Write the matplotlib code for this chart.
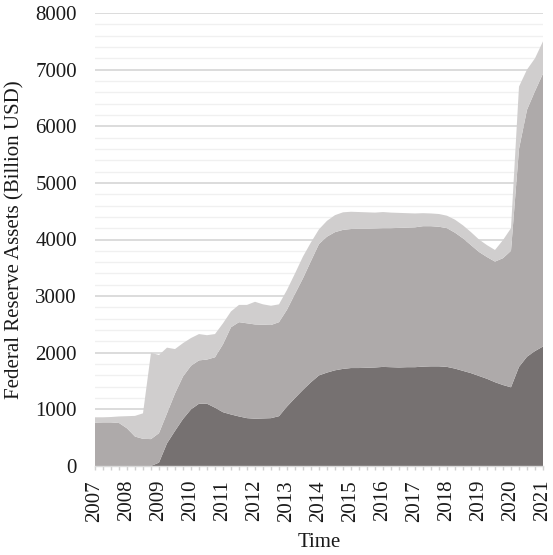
import numpy as np
import matplotlib
matplotlib.use("Agg")
import matplotlib.pyplot as plt
from matplotlib.ticker import MultipleLocator

plt.rcParams['font.family'] = ['Liberation Serif', 'DejaVu Serif']

# Quarterly observations, 2007 Q1 .. 2021 Q1 (decimal years)
quarters = 2007 + np.arange(57) / 4.0

# Layer values (Billion USD), bottom to top
mbs = [0, 0, 0, 0, 0, 0, 0, 0, 60, 400, 620, 830, 1000, 1100, 1100, 1030,
       950, 910, 875, 845, 835, 840, 845, 880, 1050, 1200, 1345, 1480,
       1600, 1650, 1690, 1715, 1730, 1730, 1735, 1740, 1750, 1745, 1740,
       1745, 1745, 1755, 1760, 1760, 1750, 1720, 1680, 1640, 1590, 1540,
       1480, 1430, 1390, 1750, 1930, 2030, 2110]
treasuries = [765, 770, 770, 760, 665, 520, 480, 475, 520, 530, 660, 750,
              770, 765, 780, 890, 1200, 1540, 1665, 1675, 1665, 1655, 1645,
              1660, 1710, 1840, 1970, 2140, 2320, 2400, 2440, 2455, 2455,
              2460, 2455, 2455, 2450, 2455, 2465, 2465, 2470, 2480, 2475,
              2465, 2450, 2400, 2340, 2260, 2190, 2150, 2130, 2240, 2410,
              3850, 4360, 4590, 4820]
other = [95, 90, 95, 115, 215, 365, 450, 1525, 1380, 1160, 785, 590, 490,
         465, 430, 410, 370, 280, 305, 325, 400, 360, 340, 315, 350, 360,
         385, 330, 260, 280, 300, 310, 305, 295, 290, 280, 285, 275, 265,
         255, 245, 230, 225, 225, 220, 230, 230, 230, 220, 210, 205, 320,
         400, 1100, 710, 580, 570]

year_ticks = list(range(2007, 2022))
colors = ['#767171', '#AEAAAA', '#D0CECE']

fig = plt.figure(figsize=(5.53, 5.55), dpi=100)
ax = fig.add_axes([95 / 553, 1 - 466 / 555, (543 - 95) / 553, (466 - 13) / 555])

ax.stackplot(quarters, mbs, treasuries, other, colors=colors, linewidth=0)

ax.set_xlim(2007, 2021)
ax.set_ylim(0, 8000)
ax.yaxis.set_major_locator(MultipleLocator(1000))
ax.yaxis.set_minor_locator(MultipleLocator(200))
ax.set_xticks(year_ticks)
ax.set_xticklabels([str(y) for y in year_ticks], rotation=90)
ax.xaxis.set_minor_locator(MultipleLocator(0.25))

ax.set_axisbelow(True)
ax.yaxis.grid(True, which='major', color='#d9d9d9', linewidth=1.3)
ax.yaxis.grid(True, which='minor', color='#f0f0f0', linewidth=1.0)

for s in ['left', 'top', 'right']:
    ax.spines[s].set_visible(False)
ax.spines['bottom'].set_color('#d9d9d9')
ax.spines['bottom'].set_linewidth(1.0)

ax.tick_params(axis='y', which='both', length=0, pad=13, labelsize=15,
               labelcolor='#1a1a1a')
ax.tick_params(axis='x', which='both', length=3, color='#d0d0d0', width=1,
               pad=7, labelsize=15, labelcolor='#1a1a1a')

ax.set_ylabel('Federal Reserve Assets (Billion USD)', fontsize=15,
              color='#1a1a1a', labelpad=8)
ax.set_xlabel('Time', fontsize=15, color='#1a1a1a', labelpad=8)

fig.savefig('out.png', dpi=100)
